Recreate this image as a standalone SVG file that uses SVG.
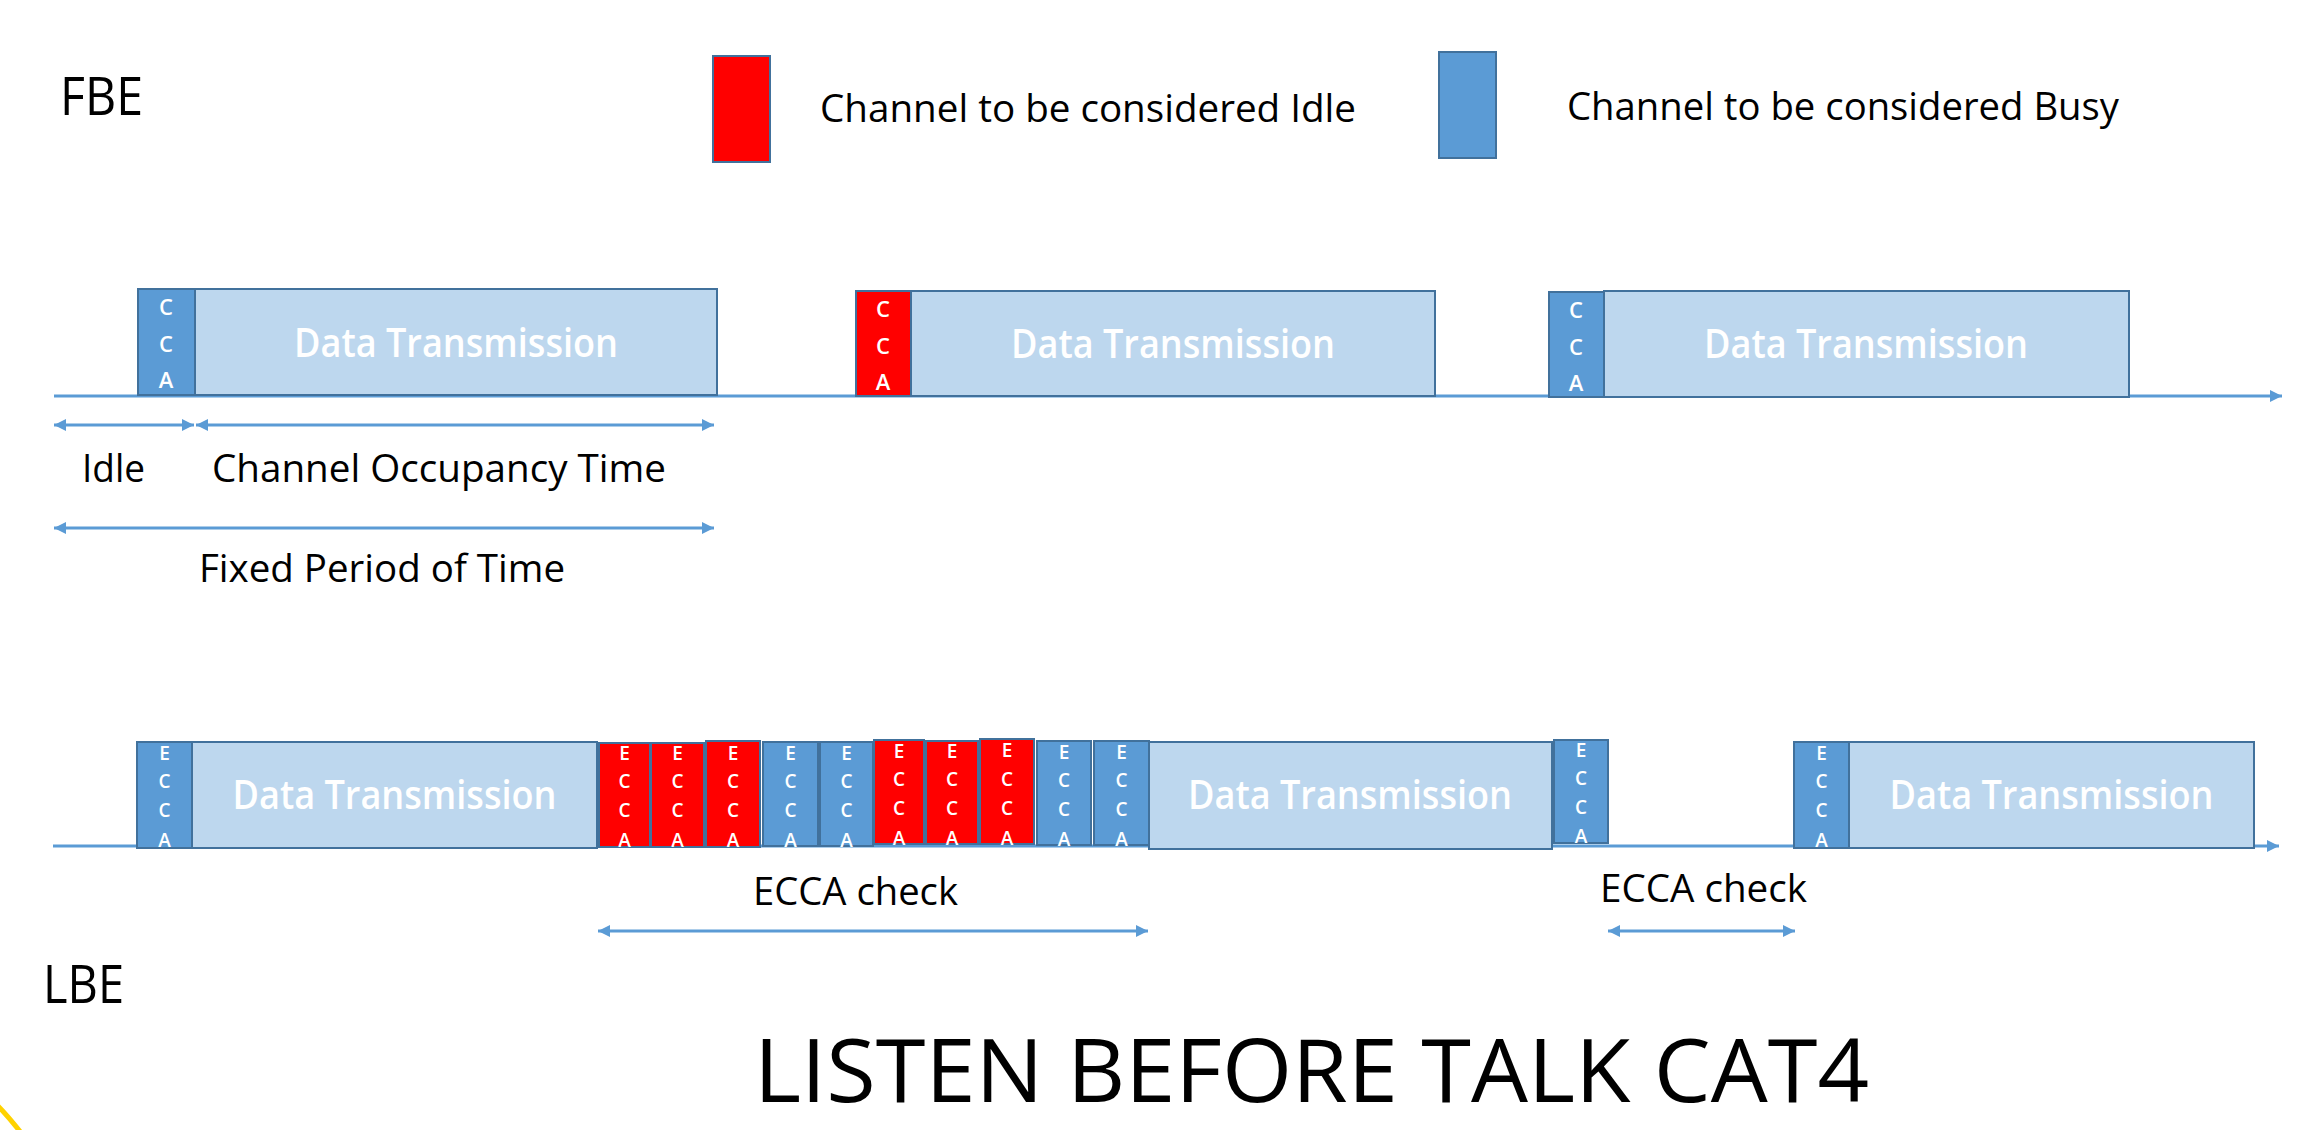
<svg xmlns="http://www.w3.org/2000/svg" width="2313" height="1130" viewBox="0 0 2313 1130">
<style>
text { font-family: "Open Sans", "Liberation Sans", sans-serif; }
.lbl { fill: #000; font-size: 38px; }
.big { fill: #000; font-size: 53px; }
.title { fill: #000; font-size: 88px; }
.busy { fill: #5B9BD5; stroke: #41719C; stroke-width: 2; }
.idle { fill: #FF0000; stroke: #41719C; stroke-width: 2; }
.data { fill: #BDD7EE; stroke: #41719C; stroke-width: 2; }
.dt { fill: #fff; font-size: 40px; font-weight: 600; text-anchor: middle; }
.let { fill: #fff; font-size: 22px; font-weight: 600; text-anchor: middle; }
.elet { fill: #fff; font-size: 19px; font-weight: 600; text-anchor: middle; }
.axis { stroke: #5B9BD5; stroke-width: 3; fill: none; }
.dim { stroke: #5B9BD5; stroke-width: 3; fill: none; marker-start: url(#ah); marker-end: url(#ah); }
</style>
<defs>
<marker id="ah" viewBox="0 0 10 10" refX="10" refY="5" markerUnits="userSpaceOnUse" markerWidth="12" markerHeight="16" orient="auto-start-reverse">
<path d="M0,0 L10,5 L0,10 z" fill="#5B9BD5"/>
</marker>
<marker id="ax" viewBox="0 0 10 10" refX="10" refY="5" markerUnits="userSpaceOnUse" markerWidth="12" markerHeight="18" orient="auto">
<path d="M0,0 L10,5 L0,10 z" fill="#5B9BD5"/>
</marker>
</defs>
<rect width="2313" height="1130" fill="#fff"/>

<g id="label-fbe"><text class="big" x="60" y="115" textLength="83" lengthAdjust="spacingAndGlyphs">FBE</text></g>
<g id="label-lbe"><text class="big" x="43" y="1003" textLength="81" lengthAdjust="spacingAndGlyphs">LBE</text></g>

<g id="legend-idle">
<rect class="idle" x="713" y="56" width="57" height="106"/>
<text class="lbl" x="820" y="122" textLength="536" lengthAdjust="spacingAndGlyphs">Channel to be considered Idle</text>
</g>
<g id="legend-busy">
<rect class="busy" x="1439" y="52" width="57" height="106"/>
<text class="lbl" x="1567" y="120" textLength="552" lengthAdjust="spacingAndGlyphs">Channel to be considered Busy</text>
</g>

<g id="connectors">
<line class="axis" x1="54" y1="396" x2="2282" y2="396" marker-end="url(#ax)"/>
<line class="axis" x1="53" y1="846" x2="2279" y2="846" marker-end="url(#ax)"/>
<line class="dim" x1="54" y1="425" x2="194" y2="425"/>
<line class="dim" x1="196" y1="425" x2="714" y2="425"/>
<line class="dim" x1="54" y1="528" x2="714" y2="528"/>
<line class="dim" x1="598" y1="931" x2="1148" y2="931"/>
<line class="dim" x1="1608" y1="931" x2="1795" y2="931"/>
</g>

<g id="fbe-cca1"><rect class="busy" x="138" y="289" width="57" height="106"/>
<text class="let" x="166" y="315">C</text><text class="let" x="166" y="352">C</text><text class="let" x="166" y="388">A</text></g>
<g id="fbe-data1"><rect class="data" x="195" y="289" width="522" height="106"/>
<text class="dt" x="456" y="357" textLength="324" lengthAdjust="spacingAndGlyphs">Data Transmission</text></g>

<g id="fbe-cca2"><rect class="idle" x="856" y="291" width="55" height="105"/>
<text class="let" x="883" y="317">C</text><text class="let" x="883" y="354">C</text><text class="let" x="883" y="390">A</text></g>
<g id="fbe-data2"><rect class="data" x="911" y="291" width="524" height="105"/>
<text class="dt" x="1173" y="358" textLength="324" lengthAdjust="spacingAndGlyphs">Data Transmission</text></g>

<g id="fbe-cca3"><rect class="busy" x="1549" y="292" width="55" height="105"/>
<text class="let" x="1576" y="318">C</text><text class="let" x="1576" y="355">C</text><text class="let" x="1576" y="391">A</text></g>
<g id="fbe-data3"><rect class="data" x="1604" y="291" width="525" height="106"/>
<text class="dt" x="1866" y="358" textLength="324" lengthAdjust="spacingAndGlyphs">Data Transmission</text></g>

<g id="fbe-labels">
<text class="lbl" x="82" y="482" textLength="63" lengthAdjust="spacingAndGlyphs">Idle</text>
<text class="lbl" x="212" y="482" textLength="454" lengthAdjust="spacingAndGlyphs">Channel Occupancy Time</text>
<text class="lbl" x="199" y="582" textLength="366" lengthAdjust="spacingAndGlyphs">Fixed Period of Time</text>
</g>

<g id="lbe-ecca1"><rect class="busy" x="137" y="742" width="55" height="106"/>
<text class="elet" x="164.5" y="760">E</text><text class="elet" x="164.5" y="788">C</text><text class="elet" x="164.5" y="817">C</text><text class="elet" x="164.5" y="847">A</text></g>
<g id="lbe-data1"><rect class="data" x="192" y="742" width="405" height="106"/>
<text class="dt" x="394.5" y="809" textLength="324" lengthAdjust="spacingAndGlyphs">Data Transmission</text></g>

<g id="lbe-e1"><rect class="idle" x="599" y="743" width="51" height="104"/>
<text class="elet" x="624.5" y="760">E</text><text class="elet" x="624.5" y="788">C</text><text class="elet" x="624.5" y="817">C</text><text class="elet" x="624.5" y="847">A</text></g>
<g id="lbe-e2"><rect class="idle" x="651" y="743" width="53" height="104"/>
<text class="elet" x="677.5" y="760">E</text><text class="elet" x="677.5" y="788">C</text><text class="elet" x="677.5" y="817">C</text><text class="elet" x="677.5" y="847">A</text></g>
<g id="lbe-e3"><rect class="idle" x="706" y="741" width="54" height="106"/>
<text class="elet" x="733" y="760">E</text><text class="elet" x="733" y="788">C</text><text class="elet" x="733" y="817">C</text><text class="elet" x="733" y="847">A</text></g>
<g id="lbe-e4"><rect class="busy" x="763" y="742" width="55" height="104"/>
<text class="elet" x="790.5" y="760">E</text><text class="elet" x="790.5" y="788">C</text><text class="elet" x="790.5" y="817">C</text><text class="elet" x="790.5" y="847">A</text></g>
<g id="lbe-e5"><rect class="busy" x="820" y="742" width="53" height="104"/>
<text class="elet" x="846.5" y="760">E</text><text class="elet" x="846.5" y="788">C</text><text class="elet" x="846.5" y="817">C</text><text class="elet" x="846.5" y="847">A</text></g>
<g id="lbe-e6"><rect class="idle" x="874" y="740" width="50" height="104"/>
<text class="elet" x="899" y="758">E</text><text class="elet" x="899" y="786">C</text><text class="elet" x="899" y="815">C</text><text class="elet" x="899" y="845">A</text></g>
<g id="lbe-e7"><rect class="idle" x="926" y="741" width="52" height="103"/>
<text class="elet" x="952" y="758">E</text><text class="elet" x="952" y="786">C</text><text class="elet" x="952" y="815">C</text><text class="elet" x="952" y="845">A</text></g>
<g id="lbe-e8"><rect class="idle" x="980" y="739" width="54" height="105"/>
<text class="elet" x="1007" y="757">E</text><text class="elet" x="1007" y="786">C</text><text class="elet" x="1007" y="815">C</text><text class="elet" x="1007" y="845">A</text></g>
<g id="lbe-e9"><rect class="busy" x="1037" y="741" width="54" height="104"/>
<text class="elet" x="1064" y="759">E</text><text class="elet" x="1064" y="787">C</text><text class="elet" x="1064" y="816">C</text><text class="elet" x="1064" y="846">A</text></g>
<g id="lbe-e10"><rect class="busy" x="1094" y="741" width="55" height="104"/>
<text class="elet" x="1121.5" y="759">E</text><text class="elet" x="1121.5" y="787">C</text><text class="elet" x="1121.5" y="816">C</text><text class="elet" x="1121.5" y="846">A</text></g>

<g id="lbe-data2"><rect class="data" x="1149" y="742" width="403" height="107"/>
<text class="dt" x="1350" y="809" textLength="324" lengthAdjust="spacingAndGlyphs">Data Transmission</text></g>
<g id="lbe-ecca2"><rect class="busy" x="1554" y="740" width="54" height="103"/>
<text class="elet" x="1581" y="757">E</text><text class="elet" x="1581" y="785">C</text><text class="elet" x="1581" y="814">C</text><text class="elet" x="1581" y="843">A</text></g>
<g id="lbe-ecca3"><rect class="busy" x="1794" y="742" width="55" height="106"/>
<text class="elet" x="1821.5" y="760">E</text><text class="elet" x="1821.5" y="788">C</text><text class="elet" x="1821.5" y="817">C</text><text class="elet" x="1821.5" y="847">A</text></g>
<g id="lbe-data3"><rect class="data" x="1849" y="742" width="405" height="106"/>
<text class="dt" x="2051.5" y="809" textLength="324" lengthAdjust="spacingAndGlyphs">Data Transmission</text></g>

<g id="lbe-labels">
<text class="lbl" x="753" y="905" textLength="205" lengthAdjust="spacingAndGlyphs">ECCA check</text>
<text class="lbl" x="1600" y="902" textLength="207" lengthAdjust="spacingAndGlyphs">ECCA check</text>
</g>

<g id="title"><text class="title" x="754" y="1102" textLength="1115" lengthAdjust="spacingAndGlyphs">LISTEN BEFORE TALK CAT4</text></g>

<path d="M -4 1104 Q 8 1116 22 1134" fill="none" stroke="#FFD200" stroke-width="5"/>
</svg>
